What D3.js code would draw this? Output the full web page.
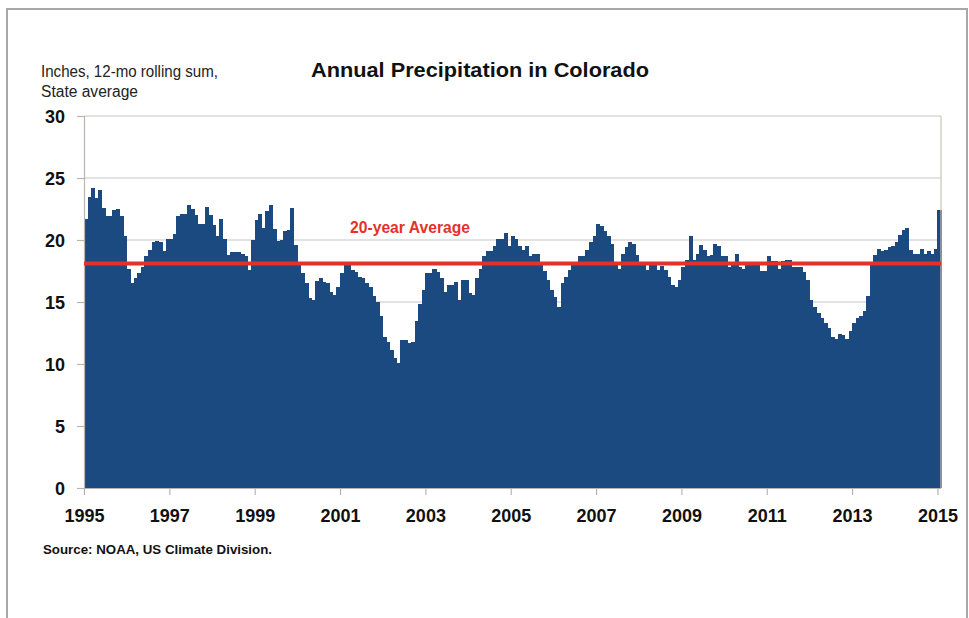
<!DOCTYPE html>
<html>
<head>
<meta charset="utf-8">
<script src="https://cdn.jsdelivr.net/npm/d3@7"></script>
<style>
  html, body { margin: 0; padding: 0; background: #fff; }
  svg { display: block; }
</style>
</head>
<body>
<svg id="chart" width="969" height="618"></svg>
<script>
// ---- Data ----
const startYear = 1995;
// 12-month rolling sum of precipitation (inches), monthly Jan 1995 .. Jan 2015
const precip1995 = [21.7, 23.5, 24.2, 23.4, 24.0, 22.6, 21.9, 21.9, 22.4, 22.5, 21.9, 20.3];
const precip1996 = [17.7, 16.5, 16.9, 17.3, 17.8, 18.7, 19.2, 19.8, 19.9, 19.8, 19.1, 20.1];
const precip1997 = [20.1, 20.5, 21.9, 22.1, 22.1, 22.8, 22.5, 22.0, 21.3, 21.3, 22.7, 22.0];
const precip1998 = [21.2, 20.3, 21.7, 20.1, 18.8, 19.0, 19.0, 19.0, 18.9, 18.7, 17.6, 20.0];
const precip1999 = [21.6, 22.1, 21.0, 22.3, 22.8, 20.9, 19.9, 20.0, 20.7, 20.8, 22.6, 19.6];
const precip2000 = [18.1, 17.3, 16.5, 15.3, 15.2, 16.7, 16.9, 16.6, 16.5, 15.8, 15.6, 16.2];
const precip2001 = [17.3, 18.0, 18.0, 17.6, 17.4, 17.0, 16.9, 16.5, 16.2, 15.5, 15.0, 13.9];
const precip2002 = [12.2, 11.8, 11.1, 10.5, 10.1, 11.9, 11.9, 11.7, 11.8, 13.5, 14.8, 16.0];
const precip2003 = [17.3, 17.3, 17.7, 17.4, 16.9, 15.8, 16.4, 16.4, 16.6, 15.2, 16.8, 16.8];
const precip2004 = [15.7, 15.6, 16.9, 17.7, 18.7, 19.1, 19.1, 19.5, 20.1, 20.1, 20.6, 19.5];
const precip2005 = [20.3, 20.1, 19.5, 19.2, 19.5, 18.7, 18.9, 18.9, 18.1, 17.5, 16.8, 16.0];
const precip2006 = [15.4, 14.6, 16.5, 17.0, 17.6, 18.1, 18.1, 18.7, 18.7, 19.2, 19.8, 20.3];
const precip2007 = [21.3, 21.1, 20.7, 20.3, 19.7, 18.1, 17.7, 18.9, 19.4, 19.8, 19.7, 18.8];
const precip2008 = [18.2, 18.1, 17.6, 18.2, 18.0, 17.6, 17.9, 17.6, 17.0, 16.4, 16.2, 16.8];
const precip2009 = [17.8, 18.4, 20.3, 18.4, 18.9, 19.6, 19.2, 18.7, 18.8, 19.7, 19.5, 18.7];
const precip2010 = [18.7, 17.8, 18.1, 18.9, 17.8, 17.7, 18.0, 18.0, 18.0, 18.0, 17.5, 17.5];
const precip2011 = [18.7, 18.3, 18.3, 17.7, 18.3, 18.4, 18.4, 17.8, 17.8, 17.8, 17.4, 16.8];
const precip2012 = [15.2, 14.6, 14.1, 13.7, 13.3, 12.9, 12.2, 12.0, 12.4, 12.3, 12.0, 12.7];
const precip2013 = [13.3, 13.7, 13.9, 14.3, 15.5, 18.0, 18.8, 19.3, 19.1, 19.2, 19.4, 19.5];
const precip2014 = [19.8, 20.4, 20.8, 21.0, 19.2, 18.9, 18.9, 19.3, 18.9, 19.1, 18.9, 19.3];
const precip2015 = [22.4];

const average20yr = 18.1;
const yTicks = [0, 5, 10, 15, 20, 25, 30];
const xTickYears = [1995, 1997, 1999, 2001, 2003, 2005, 2007, 2009, 2011, 2013, 2015];

const titleText = "Annual Precipitation in Colorado";
const unitLines = ["Inches, 12-mo rolling sum,", "State average"];
const avgLabel = "20-year Average";
const sourceText = "Source: NOAA, US Climate Division.";

// ---- Build series ----
const values = [].concat(precip1995, precip1996, precip1997, precip1998, precip1999,
  precip2000, precip2001, precip2002, precip2003, precip2004, precip2005, precip2006,
  precip2007, precip2008, precip2009, precip2010, precip2011, precip2012, precip2013,
  precip2014, precip2015);
const data = values.map((v, i) => ({ i, v }));

// ---- Layout ----
const svg = d3.select("#chart");
const plotL = 84, plotR = 941, plotT = 116, plotB = 488;

const x = d3.scaleBand().domain(data.map(d => d.i)).range([plotL, plotR]).padding(0);
const y = d3.scaleLinear().domain([0, 30]).range([plotB, plotT]);

const sans = "'Liberation Sans', Arial, Helvetica, sans-serif";

// Outer frame
svg.append("rect")
  .attr("x", 7).attr("y", 9).attr("width", 960).attr("height", 640)
  .attr("fill", "none").attr("stroke", "#a8a8a8").attr("stroke-width", 2);

// Gridlines
svg.append("g")
  .selectAll("line")
  .data(yTicks.filter(t => t > 0))
  .join("line")
  .attr("x1", plotL).attr("x2", plotR)
  .attr("y1", d => y(d)).attr("y2", d => y(d))
  .attr("stroke", "#c9c5c2").attr("stroke-width", 1.2);

// Bars
svg.append("g")
  .attr("shape-rendering", "crispEdges")
  .selectAll("rect")
  .data(data)
  .join("rect")
  .attr("x", d => x(d.i))
  .attr("width", x.bandwidth() + 0.5)
  .attr("y", d => y(d.v))
  .attr("height", d => y(0) - y(d.v))
  .attr("fill", "#1a4a7f");

// Right plot border
svg.append("line")
  .attr("x1", plotR).attr("x2", plotR).attr("y1", plotT).attr("y2", plotB)
  .attr("stroke", "#c9c5c2").attr("stroke-width", 1.2);

// Y axis
const yAxis = d3.axisLeft(y).tickValues(yTicks).tickSize(7).tickPadding(12);
const gy = svg.append("g").attr("transform", `translate(${plotL},0)`).call(yAxis);
gy.select(".domain").attr("stroke", "#b8b4b0").attr("stroke-width", 1.2);
gy.selectAll(".tick line").attr("stroke", "#b8b4b0").attr("stroke-width", 1.2);
gy.selectAll(".tick text")
  .attr("font-family", sans).attr("font-weight", "bold").attr("font-size", 18)
  .attr("fill", "#111").attr("dy", "0.36em");

// X axis (ticks at January of each labelled year)
const xPos = yr => plotL + (yr - startYear) * 12 * x.step();
const xs = d3.scaleLinear().domain([startYear, startYear + 20]).range([xPos(startYear), xPos(startYear + 20)]);
const xAxis = d3.axisBottom(xs).tickValues(xTickYears).tickFormat(d3.format("d")).tickSize(7).tickPadding(14).tickSizeOuter(0);
const gx = svg.append("g").attr("transform", `translate(0,${plotB})`).call(xAxis);
gx.select(".domain").attr("stroke", "#b8b4b0").attr("stroke-width", 1.2)
  .attr("d", `M${plotL},0.5H${plotR}`);
gx.selectAll(".tick line").attr("stroke", "#b8b4b0").attr("stroke-width", 1.2);
gx.selectAll(".tick text")
  .attr("font-family", sans).attr("font-weight", "bold").attr("font-size", 18)
  .attr("fill", "#111");

// 20-year average line
svg.append("line")
  .attr("x1", plotL).attr("x2", plotR)
  .attr("y1", y(average20yr)).attr("y2", y(average20yr))
  .attr("stroke", "#e4312b").attr("stroke-width", 4);

svg.append("text")
  .attr("x", 350).attr("y", 233)
  .attr("font-family", sans).attr("font-weight", "bold").attr("font-size", 17)
  .attr("textLength", 120).attr("lengthAdjust", "spacingAndGlyphs")
  .attr("fill", "#e4312b")
  .text(avgLabel);

// Title
svg.append("text")
  .attr("x", 311).attr("y", 77)
  .attr("font-family", sans).attr("font-weight", "bold").attr("font-size", 20)
  .attr("textLength", 338).attr("lengthAdjust", "spacingAndGlyphs")
  .attr("fill", "#111")
  .text(titleText);

// Unit label
const unitWidths = [177, 97];
svg.append("g").selectAll("text")
  .data(unitLines)
  .join("text")
  .attr("x", 41).attr("y", (d, i) => 77 + i * 20)
  .attr("font-family", sans).attr("font-size", 16)
  .attr("textLength", (d, i) => unitWidths[i]).attr("lengthAdjust", "spacingAndGlyphs")
  .attr("fill", "#222")
  .text(d => d);

// Source
svg.append("text")
  .attr("x", 43).attr("y", 554)
  .attr("font-family", sans).attr("font-weight", "bold").attr("font-size", 13)
  .attr("textLength", 229).attr("lengthAdjust", "spacingAndGlyphs")
  .attr("fill", "#111")
  .text(sourceText);
</script>
</body>
</html>
